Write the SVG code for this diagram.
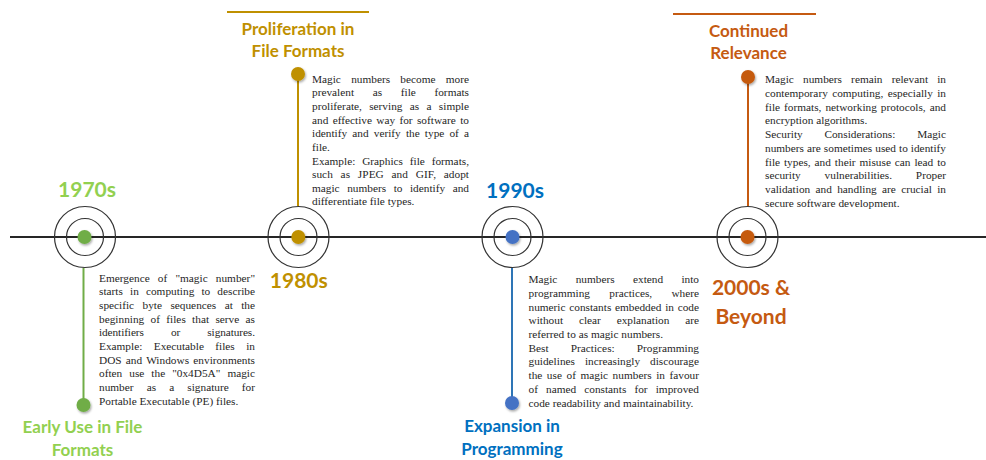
<svg xmlns="http://www.w3.org/2000/svg" width="986" height="460" viewBox="0 0 986 460">
  <defs>
    <filter id="soft" x="-50%" y="-50%" width="200%" height="200%">
      <feDropShadow dx="1" dy="1.5" stdDeviation="1.2" flood-color="#000" flood-opacity="0.35"/>
    </filter>
  </defs>
  <style>
    .ring { fill: none; stroke: #333333; stroke-width: 1.2; }
    .axis { stroke: #262626; stroke-width: 2; }
    .stem { stroke-width: 2; fill: none; }
    .year { font-family: Lato, "Open Sans", sans-serif; font-weight: 700; font-size: 21px; text-anchor: middle; }
    .title { font-family: Lato, "Open Sans", sans-serif; font-weight: 700; font-size: 17px; text-anchor: middle; }
    .body { font-family: "Liberation Serif", "Times New Roman", serif; font-size: 11.3px; fill: #262626; }
    .green { fill: #70AD47; }
    .greenT { fill: #92D050; }
    .gold { fill: #BF9000; }
    .blue { fill: #4472C4; }
    .blueT { fill: #0070C0; }
    .orange { fill: #C55A11; }
  </style>

  <!-- timeline axis, stems and top rules -->
  <g id="connectors">
    <line class="axis" x1="10" y1="237" x2="986" y2="237"/>
    <line class="stem" x1="83.5" y1="268" x2="83.5" y2="405" stroke="#70AD47"/>
    <line class="stem" x1="298" y1="74" x2="298" y2="206" stroke="#BF9000"/>
    <line class="stem" x1="512" y1="268" x2="512" y2="403" stroke="#2E75B6"/>
    <line class="stem" x1="748" y1="77" x2="748" y2="206" stroke="#C55A11"/>
    <line x1="227" y1="12" x2="369" y2="12" stroke="#BF9000" stroke-width="2"/>
    <line x1="673" y1="14" x2="816" y2="14" stroke="#C55A11" stroke-width="2"/>
  </g>

  <!-- 1970s -->
  <g id="era-1970s">
    <circle class="ring" cx="85" cy="237" r="30.5"/>
    <circle class="ring" cx="85" cy="237" r="18.5"/>
    <circle class="green" cx="84.5" cy="237" r="7" filter="url(#soft)"/>
    <circle class="green" cx="83.5" cy="405" r="7" filter="url(#soft)"/>
    <text class="year greenT" x="87" y="197">1970s</text>
    <text class="title greenT" x="82.5" y="433">Early Use in File</text>
    <text class="title greenT" x="82.5" y="456">Formats</text>
    <g class="body">
      <text x="99" y="281.7" textLength="156" lengthAdjust="spacing" style="word-spacing:5.3px">Emergence of "magic number"</text>
      <text x="99" y="295.4" textLength="156" lengthAdjust="spacing" style="word-spacing:4.3px">starts in computing to describe</text>
      <text x="99" y="309" textLength="156" lengthAdjust="spacing" style="word-spacing:5.6px">specific byte sequences at the</text>
      <text x="99" y="322.7" textLength="156" lengthAdjust="spacing" style="word-spacing:3.5px">beginning of files that serve as</text>
      <text x="99" y="336.4" textLength="156" lengthAdjust="spacing" style="word-spacing:24.4px">identifiers or signatures.</text>
      <text x="99" y="350" textLength="156" lengthAdjust="spacing" style="word-spacing:8.6px">Example: Executable files in</text>
      <text x="99" y="363.7" textLength="156" lengthAdjust="spacing" style="word-spacing:1.3px">DOS and Windows environments</text>
      <text x="99" y="377.4" textLength="156" lengthAdjust="spacing" style="word-spacing:4.2px">often use the "0x4D5A" magic</text>
      <text x="99" y="391" textLength="156" lengthAdjust="spacing" style="word-spacing:10.3px">number as a signature for</text>
      <text x="99" y="404.7">Portable Executable (PE) files.</text>
    </g>
  </g>

  <!-- 1980s -->
  <g id="era-1980s">
    <circle class="ring" cx="298.5" cy="237" r="30.5"/>
    <circle class="ring" cx="298.5" cy="237" r="18.5"/>
    <circle class="gold" cx="298.3" cy="237" r="7" filter="url(#soft)"/>
    <circle class="gold" cx="298" cy="74" r="7" filter="url(#soft)"/>
    <text class="year gold" x="298.8" y="288">1980s</text>
    <text class="title gold" x="298" y="35">Proliferation in</text>
    <text class="title gold" x="298" y="57">File Formats</text>
    <g class="body">
      <text x="312" y="82.7" textLength="157" lengthAdjust="spacing" style="word-spacing:7.5px">Magic numbers become more</text>
      <text x="312" y="96.3" textLength="157" lengthAdjust="spacing" style="word-spacing:15.8px">prevalent as file formats</text>
      <text x="312" y="110" textLength="157" lengthAdjust="spacing" style="word-spacing:4.5px">proliferate, serving as a simple</text>
      <text x="312" y="123.6" textLength="157" lengthAdjust="spacing" style="word-spacing:1.5px">and effective way for software to</text>
      <text x="312" y="137.2" textLength="157" lengthAdjust="spacing" style="word-spacing:2.3px">identify and verify the type of a</text>
      <text x="312" y="150.8">file.</text>
      <text x="312" y="164.5" textLength="157" lengthAdjust="spacing" style="word-spacing:4px">Example: Graphics file formats,</text>
      <text x="312" y="178.1" textLength="157" lengthAdjust="spacing" style="word-spacing:4.9px">such as JPEG and GIF, adopt</text>
      <text x="312" y="191.7" textLength="157" lengthAdjust="spacing" style="word-spacing:4.7px">magic numbers to identify and</text>
      <text x="312" y="205.3">differentiate file types.</text>
    </g>
  </g>

  <!-- 1990s -->
  <g id="era-1990s">
    <circle class="ring" cx="512.5" cy="237" r="30.5"/>
    <circle class="ring" cx="512.5" cy="237" r="18.5"/>
    <circle class="blue" cx="512.5" cy="237" r="7" filter="url(#soft)"/>
    <circle class="blue" cx="512" cy="403" r="7" filter="url(#soft)"/>
    <text class="year blueT" x="515" y="198">1990s</text>
    <text class="title blueT" x="512" y="432">Expansion in</text>
    <text class="title blueT" x="512" y="455">Programming</text>
    <g class="body">
      <text x="528.5" y="283.3" textLength="170.5" lengthAdjust="spacing" style="word-spacing:15.5px">Magic numbers extend into</text>
      <text x="528.5" y="297" textLength="170.5" lengthAdjust="spacing" style="word-spacing:16.4px">programming practices, where</text>
      <text x="528.5" y="310.7" textLength="170.5" lengthAdjust="spacing" style="word-spacing:0.9px">numeric constants embedded in code</text>
      <text x="528.5" y="324.4" textLength="170.5" lengthAdjust="spacing" style="word-spacing:13px">without clear explanation are</text>
      <text x="528.5" y="338">referred to as magic numbers.</text>
      <text x="528.5" y="351.7" textLength="170.5" lengthAdjust="spacing" style="word-spacing:19.3px">Best Practices: Programming</text>
      <text x="528.5" y="365.4" textLength="170.5" lengthAdjust="spacing" style="word-spacing:7.1px">guidelines increasingly discourage</text>
      <text x="528.5" y="379.1" textLength="170.5" lengthAdjust="spacing" style="word-spacing:1.7px">the use of magic numbers in favour</text>
      <text x="528.5" y="392.8" textLength="170.5" lengthAdjust="spacing" style="word-spacing:5.3px">of named constants for improved</text>
      <text x="528.5" y="406.5">code readability and maintainability.</text>
    </g>
  </g>

  <!-- 2000s & Beyond -->
  <g id="era-2000s">
    <circle class="ring" cx="747.5" cy="237" r="30.5"/>
    <circle class="ring" cx="747.5" cy="237" r="18.5"/>
    <circle class="orange" cx="747.5" cy="237" r="7" filter="url(#soft)"/>
    <circle class="orange" cx="748" cy="77" r="7" filter="url(#soft)"/>
    <text class="year orange" x="751" y="295">2000s &amp;</text>
    <text class="year orange" x="751" y="323.5">Beyond</text>
    <text class="title orange" x="748.5" y="37">Continued</text>
    <text class="title orange" x="748.5" y="59">Relevance</text>
    <g class="body">
      <text x="765" y="83.3" textLength="181" lengthAdjust="spacing" style="word-spacing:6.3px">Magic numbers remain relevant in</text>
      <text x="765" y="97" textLength="181" lengthAdjust="spacing" style="word-spacing:1.5px">contemporary computing, especially in</text>
      <text x="765" y="110.7" textLength="181" lengthAdjust="spacing" style="word-spacing:1.2px">file formats, networking protocols, and</text>
      <text x="765" y="124.4">encryption algorithms.</text>
      <text x="765" y="138.1" textLength="181" lengthAdjust="spacing" style="word-spacing:18.9px">Security Considerations: Magic</text>
      <text x="765" y="151.8" textLength="181" lengthAdjust="spacing" style="word-spacing:0.2px">numbers are sometimes used to identify</text>
      <text x="765" y="165.5" textLength="181" lengthAdjust="spacing" style="word-spacing:1.1px">file types, and their misuse can lead to</text>
      <text x="765" y="179.2" textLength="181" lengthAdjust="spacing" style="word-spacing:21px">security vulnerabilities. Proper</text>
      <text x="765" y="192.9" textLength="181" lengthAdjust="spacing" style="word-spacing:2.5px">validation and handling are crucial in</text>
      <text x="765" y="206.6">secure software development.</text>
    </g>
  </g>
</svg>
